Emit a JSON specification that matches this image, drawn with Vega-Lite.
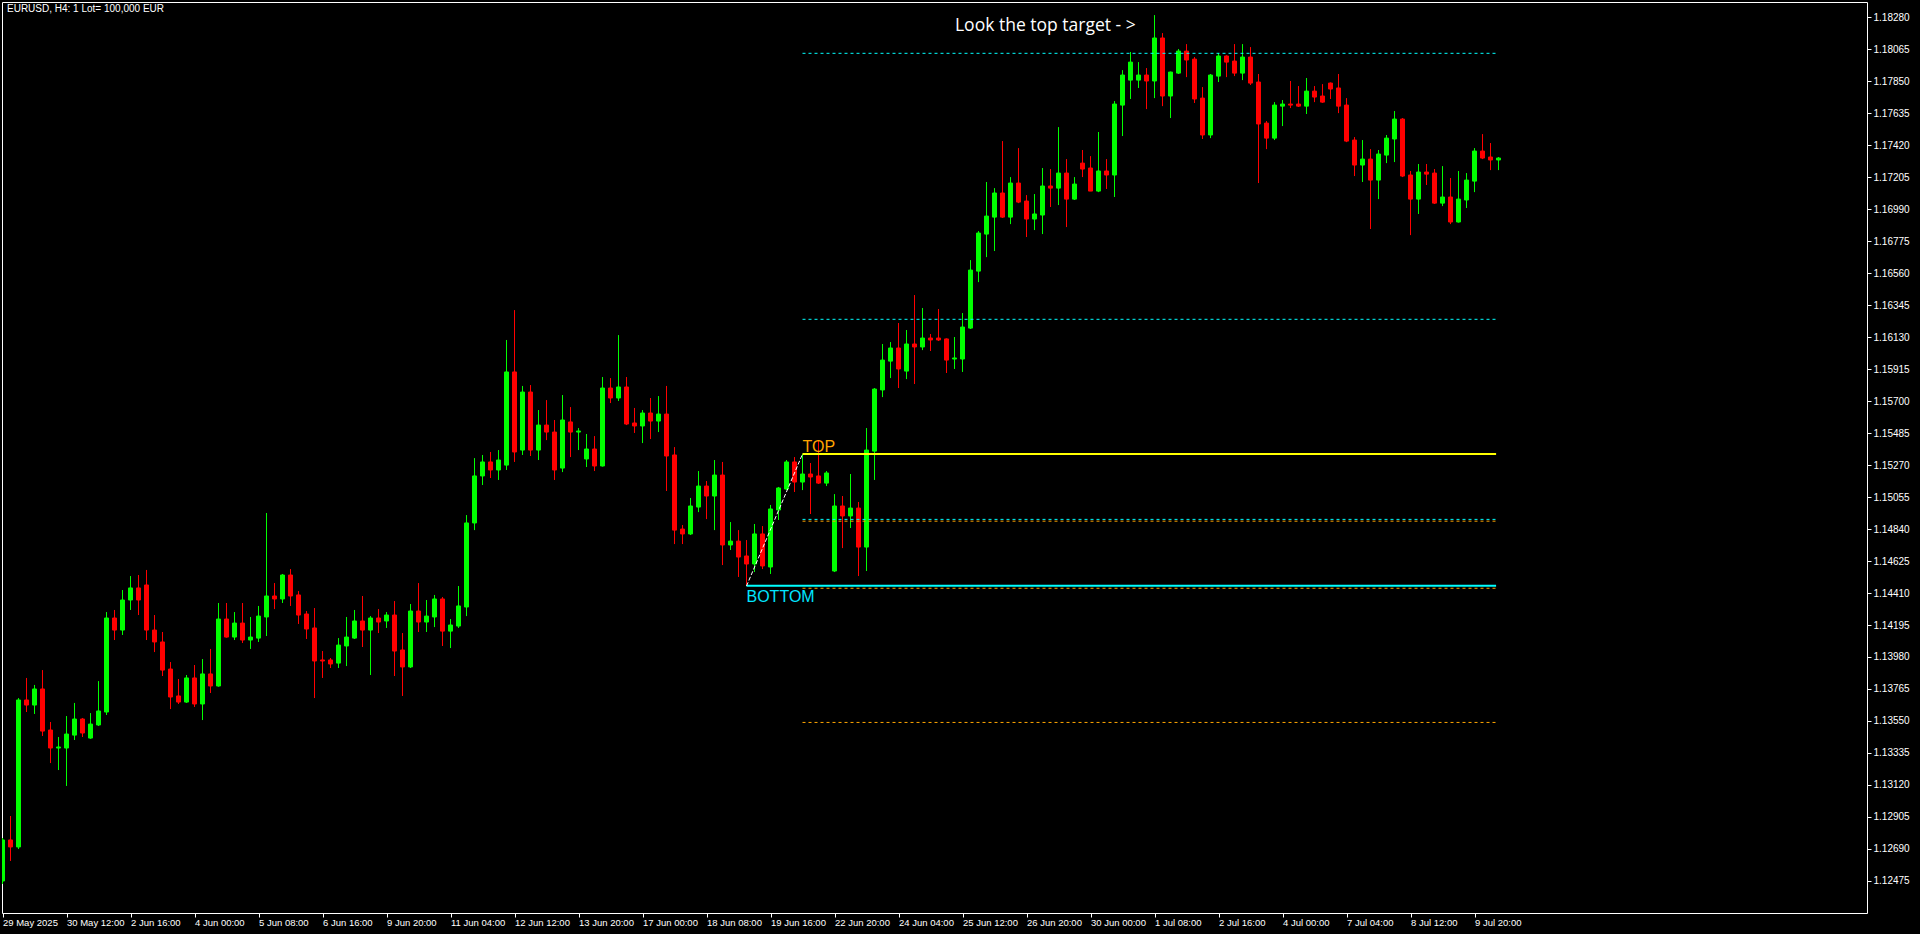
{
"$schema": "https://vega.github.io/schema/vega-lite/v6.json",
"width": 1865,
"height": 911,
"autosize": {"type": "none"},
"padding": {"left": 2, "top": 2, "right": 53, "bottom": 21},
"background": "#000000",
"config": {"view": {"stroke": "#ffffff", "strokeWidth": 1}},
"title": {"text": "EURUSD, H4:  1 Lot= 100,000 EUR", "anchor": "start", "frame": "group", "orient": "top", "offset": -12, "dx": 5, "color": "#ffffff", "font": "Liberation Sans", "fontSize": 10, "fontWeight": "normal"},
"resolve": {"axis": {"x": "independent", "y": "independent"}},
"datasets": {
"candles": [
{"i":0,"o":1.12474,"h":1.12763,"l":1.12454,"c":1.12750},
{"i":1,"o":1.12750,"h":1.12911,"l":1.12609,"c":1.12703},
{"i":2,"o":1.12703,"h":1.13704,"l":1.12689,"c":1.13691},
{"i":3,"o":1.13691,"h":1.13839,"l":1.13610,"c":1.13657},
{"i":4,"o":1.13657,"h":1.13792,"l":1.13597,"c":1.13765},
{"i":5,"o":1.13765,"h":1.13892,"l":1.13449,"c":1.13482},
{"i":6,"o":1.13489,"h":1.13543,"l":1.13267,"c":1.13368},
{"i":7,"o":1.13368,"h":1.13442,"l":1.13220,"c":1.13375},
{"i":8,"o":1.13368,"h":1.13583,"l":1.13113,"c":1.13462},
{"i":9,"o":1.13455,"h":1.13671,"l":1.13422,"c":1.13563},
{"i":10,"o":1.13563,"h":1.13570,"l":1.13442,"c":1.13469},
{"i":11,"o":1.13435,"h":1.13603,"l":1.13430,"c":1.13529},
{"i":12,"o":1.13523,"h":1.13818,"l":1.13516,"c":1.13617},
{"i":13,"o":1.13610,"h":1.14282,"l":1.13590,"c":1.14242},
{"i":14,"o":1.14242,"h":1.14296,"l":1.14094,"c":1.14161},
{"i":15,"o":1.14161,"h":1.14430,"l":1.14128,"c":1.14363},
{"i":16,"o":1.14363,"h":1.14524,"l":1.14296,"c":1.14444},
{"i":17,"o":1.14444,"h":1.14531,"l":1.14262,"c":1.14363},
{"i":18,"o":1.14464,"h":1.14565,"l":1.14094,"c":1.14161},
{"i":19,"o":1.14161,"h":1.14262,"l":1.14013,"c":1.14081},
{"i":20,"o":1.14081,"h":1.14148,"l":1.13852,"c":1.13892},
{"i":21,"o":1.13899,"h":1.13946,"l":1.13630,"c":1.13711},
{"i":22,"o":1.13718,"h":1.13832,"l":1.13664,"c":1.13677},
{"i":23,"o":1.13677,"h":1.13859,"l":1.13671,"c":1.13839},
{"i":24,"o":1.13839,"h":1.13926,"l":1.13644,"c":1.13664},
{"i":25,"o":1.13664,"h":1.13966,"l":1.13556,"c":1.13866},
{"i":26,"o":1.13866,"h":1.14034,"l":1.13738,"c":1.13785},
{"i":27,"o":1.13785,"h":1.14343,"l":1.13780,"c":1.14235},
{"i":28,"o":1.14235,"h":1.14343,"l":1.14110,"c":1.14114},
{"i":29,"o":1.14114,"h":1.14282,"l":1.14094,"c":1.14208},
{"i":30,"o":1.14208,"h":1.14343,"l":1.14074,"c":1.14094},
{"i":31,"o":1.14094,"h":1.14249,"l":1.14034,"c":1.14114},
{"i":32,"o":1.14107,"h":1.14323,"l":1.14081,"c":1.14255},
{"i":33,"o":1.14249,"h":1.14948,"l":1.14121,"c":1.14390},
{"i":34,"o":1.14390,"h":1.14477,"l":1.14302,"c":1.14370},
{"i":35,"o":1.14370,"h":1.14538,"l":1.14343,"c":1.14531},
{"i":36,"o":1.14531,"h":1.14571,"l":1.14323,"c":1.14390},
{"i":37,"o":1.14397,"h":1.14423,"l":1.14202,"c":1.14262},
{"i":38,"o":1.14269,"h":1.14289,"l":1.14101,"c":1.14168},
{"i":39,"o":1.14175,"h":1.14309,"l":1.13704,"c":1.13953},
{"i":40,"o":1.13960,"h":1.14020,"l":1.13839,"c":1.13953},
{"i":41,"o":1.13960,"h":1.13973,"l":1.13906,"c":1.13933},
{"i":42,"o":1.13939,"h":1.14107,"l":1.13906,"c":1.14060},
{"i":43,"o":1.14054,"h":1.14249,"l":1.13919,"c":1.14114},
{"i":44,"o":1.14107,"h":1.14296,"l":1.14101,"c":1.14222},
{"i":45,"o":1.14222,"h":1.14390,"l":1.14047,"c":1.14161},
{"i":46,"o":1.14161,"h":1.14255,"l":1.13859,"c":1.14242},
{"i":47,"o":1.14242,"h":1.14302,"l":1.14141,"c":1.14215},
{"i":48,"o":1.14222,"h":1.14282,"l":1.14175,"c":1.14262},
{"i":49,"o":1.14262,"h":1.14356,"l":1.13852,"c":1.14020},
{"i":50,"o":1.14027,"h":1.14141,"l":1.13718,"c":1.13913},
{"i":51,"o":1.13913,"h":1.14336,"l":1.13906,"c":1.14289},
{"i":52,"o":1.14289,"h":1.14477,"l":1.14148,"c":1.14215},
{"i":53,"o":1.14215,"h":1.14363,"l":1.14148,"c":1.14255},
{"i":54,"o":1.14249,"h":1.14397,"l":1.14181,"c":1.14370},
{"i":55,"o":1.14370,"h":1.14383,"l":1.14054,"c":1.14154},
{"i":56,"o":1.14154,"h":1.14235,"l":1.14040,"c":1.14195},
{"i":57,"o":1.14188,"h":1.14457,"l":1.14175,"c":1.14323},
{"i":58,"o":1.14316,"h":1.14934,"l":1.14255,"c":1.14881},
{"i":59,"o":1.14881,"h":1.15317,"l":1.14833,"c":1.15197},
{"i":60,"o":1.15197,"h":1.15338,"l":1.15136,"c":1.15291},
{"i":61,"o":1.15291,"h":1.15358,"l":1.15183,"c":1.15237},
{"i":62,"o":1.15237,"h":1.15371,"l":1.15170,"c":1.15304},
{"i":63,"o":1.15270,"h":1.16111,"l":1.15237,"c":1.15896},
{"i":64,"o":1.15896,"h":1.16312,"l":1.15291,"c":1.15358},
{"i":65,"o":1.15371,"h":1.15802,"l":1.15338,"c":1.15761},
{"i":66,"o":1.15761,"h":1.15808,"l":1.15331,"c":1.15371},
{"i":67,"o":1.15371,"h":1.15640,"l":1.15304,"c":1.15539},
{"i":68,"o":1.15539,"h":1.15707,"l":1.15438,"c":1.15492},
{"i":69,"o":1.15492,"h":1.15573,"l":1.15170,"c":1.15237},
{"i":70,"o":1.15250,"h":1.15741,"l":1.15223,"c":1.15573},
{"i":71,"o":1.15560,"h":1.15660,"l":1.15324,"c":1.15492},
{"i":72,"o":1.15492,"h":1.15519,"l":1.15371,"c":1.15499},
{"i":73,"o":1.15311,"h":1.15479,"l":1.15257,"c":1.15378},
{"i":74,"o":1.15378,"h":1.15465,"l":1.15230,"c":1.15264},
{"i":75,"o":1.15264,"h":1.15862,"l":1.15260,"c":1.15788},
{"i":76,"o":1.15788,"h":1.15855,"l":1.15687,"c":1.15721},
{"i":77,"o":1.15721,"h":1.16144,"l":1.15701,"c":1.15795},
{"i":78,"o":1.15795,"h":1.15862,"l":1.15539,"c":1.15546},
{"i":79,"o":1.15553,"h":1.15654,"l":1.15486,"c":1.15533},
{"i":80,"o":1.15533,"h":1.15640,"l":1.15418,"c":1.15620},
{"i":81,"o":1.15620,"h":1.15721,"l":1.15445,"c":1.15566},
{"i":82,"o":1.15566,"h":1.15734,"l":1.15492,"c":1.15613},
{"i":83,"o":1.15613,"h":1.15802,"l":1.15096,"c":1.15331},
{"i":84,"o":1.15338,"h":1.15391,"l":1.14739,"c":1.14833},
{"i":85,"o":1.14840,"h":1.14867,"l":1.14739,"c":1.14807},
{"i":86,"o":1.14807,"h":1.15049,"l":1.14800,"c":1.14995},
{"i":87,"o":1.14988,"h":1.15230,"l":1.14954,"c":1.15129},
{"i":88,"o":1.15129,"h":1.15163,"l":1.14907,"c":1.15062},
{"i":89,"o":1.15062,"h":1.15304,"l":1.14833,"c":1.15203},
{"i":90,"o":1.15203,"h":1.15291,"l":1.14598,"c":1.14733},
{"i":91,"o":1.14733,"h":1.14887,"l":1.14699,"c":1.14759},
{"i":92,"o":1.14759,"h":1.14833,"l":1.14518,"c":1.14652},
{"i":93,"o":1.14659,"h":1.14766,"l":1.14457,"c":1.14605},
{"i":94,"o":1.14605,"h":1.14874,"l":1.14551,"c":1.14807},
{"i":95,"o":1.14807,"h":1.14860,"l":1.14571,"c":1.14592},
{"i":96,"o":1.14585,"h":1.15002,"l":1.14538,"c":1.14975},
{"i":97,"o":1.14968,"h":1.15123,"l":1.14901,"c":1.15116},
{"i":98,"o":1.15109,"h":1.15304,"l":1.15102,"c":1.15291},
{"i":99,"o":1.15291,"h":1.15324,"l":1.15089,"c":1.15156},
{"i":100,"o":1.15156,"h":1.15344,"l":1.15102,"c":1.15210},
{"i":101,"o":1.15210,"h":1.15284,"l":1.14941,"c":1.15190},
{"i":102,"o":1.15197,"h":1.15432,"l":1.15143,"c":1.15149},
{"i":103,"o":1.15149,"h":1.15230,"l":1.15129,"c":1.15217},
{"i":104,"o":1.14558,"h":1.15075,"l":1.14551,"c":1.14995},
{"i":105,"o":1.14995,"h":1.15062,"l":1.14712,"c":1.14928},
{"i":106,"o":1.14928,"h":1.15210,"l":1.14847,"c":1.14981},
{"i":107,"o":1.14981,"h":1.15022,"l":1.14524,"c":1.14719},
{"i":108,"o":1.14719,"h":1.15519,"l":1.14558,"c":1.15371},
{"i":109,"o":1.15364,"h":1.15788,"l":1.15170,"c":1.15781},
{"i":110,"o":1.15775,"h":1.16084,"l":1.15727,"c":1.15976},
{"i":111,"o":1.15969,"h":1.16097,"l":1.15855,"c":1.16057},
{"i":112,"o":1.16057,"h":1.16225,"l":1.15788,"c":1.15916},
{"i":113,"o":1.15902,"h":1.16178,"l":1.15848,"c":1.16084},
{"i":114,"o":1.16084,"h":1.16413,"l":1.15815,"c":1.16064},
{"i":115,"o":1.16064,"h":1.16326,"l":1.16043,"c":1.16124},
{"i":116,"o":1.16124,"h":1.16151,"l":1.16037,"c":1.16111},
{"i":117,"o":1.16124,"h":1.16319,"l":1.16104,"c":1.16111},
{"i":118,"o":1.16118,"h":1.16122,"l":1.15889,"c":1.15976},
{"i":119,"o":1.15983,"h":1.16131,"l":1.15916,"c":1.15990},
{"i":120,"o":1.15983,"h":1.16292,"l":1.15896,"c":1.16198},
{"i":121,"o":1.16191,"h":1.16648,"l":1.16185,"c":1.16581},
{"i":122,"o":1.16574,"h":1.16843,"l":1.16500,"c":1.16830},
{"i":123,"o":1.16823,"h":1.17173,"l":1.16668,"c":1.16944},
{"i":124,"o":1.16937,"h":1.17132,"l":1.16709,"c":1.17099},
{"i":125,"o":1.17099,"h":1.17448,"l":1.16931,"c":1.16937},
{"i":126,"o":1.16937,"h":1.17206,"l":1.16890,"c":1.17166},
{"i":127,"o":1.17166,"h":1.17401,"l":1.17031,"c":1.17038},
{"i":128,"o":1.17045,"h":1.17085,"l":1.16803,"c":1.16924},
{"i":129,"o":1.16924,"h":1.17092,"l":1.16850,"c":1.16958},
{"i":130,"o":1.16951,"h":1.17267,"l":1.16823,"c":1.17146},
{"i":131,"o":1.17146,"h":1.17260,"l":1.17005,"c":1.17132},
{"i":132,"o":1.17132,"h":1.17542,"l":1.17018,"c":1.17233},
{"i":133,"o":1.17233,"h":1.17327,"l":1.16870,"c":1.17058},
{"i":134,"o":1.17058,"h":1.17206,"l":1.17052,"c":1.17159},
{"i":135,"o":1.17300,"h":1.17388,"l":1.17206,"c":1.17260},
{"i":136,"o":1.17267,"h":1.17347,"l":1.17112,"c":1.17112},
{"i":137,"o":1.17112,"h":1.17509,"l":1.17105,"c":1.17247},
{"i":138,"o":1.17247,"h":1.17327,"l":1.17126,"c":1.17220},
{"i":139,"o":1.17220,"h":1.17717,"l":1.17072,"c":1.17697},
{"i":140,"o":1.17690,"h":1.17925,"l":1.17482,"c":1.17892},
{"i":141,"o":1.17858,"h":1.18047,"l":1.17731,"c":1.17979},
{"i":142,"o":1.17858,"h":1.17979,"l":1.17805,"c":1.17892},
{"i":143,"o":1.17892,"h":1.17939,"l":1.17663,"c":1.17852},
{"i":144,"o":1.17852,"h":1.18295,"l":1.17737,"c":1.18141},
{"i":145,"o":1.18141,"h":1.18174,"l":1.17683,"c":1.17751},
{"i":146,"o":1.17751,"h":1.17915,"l":1.17603,"c":1.17912},
{"i":147,"o":1.17905,"h":1.18067,"l":1.17899,"c":1.18053},
{"i":148,"o":1.18053,"h":1.18100,"l":1.17878,"c":1.17993},
{"i":149,"o":1.17999,"h":1.18013,"l":1.17704,"c":1.17731},
{"i":150,"o":1.17737,"h":1.17811,"l":1.17462,"c":1.17489},
{"i":151,"o":1.17489,"h":1.17899,"l":1.17468,"c":1.17892},
{"i":152,"o":1.17885,"h":1.18040,"l":1.17845,"c":1.18020},
{"i":153,"o":1.18020,"h":1.18025,"l":1.17878,"c":1.17979},
{"i":154,"o":1.17986,"h":1.18100,"l":1.17885,"c":1.17905},
{"i":155,"o":1.17905,"h":1.18100,"l":1.17858,"c":1.18013},
{"i":156,"o":1.18013,"h":1.18080,"l":1.17825,"c":1.17838},
{"i":157,"o":1.17845,"h":1.17899,"l":1.17166,"c":1.17563},
{"i":158,"o":1.17569,"h":1.17583,"l":1.17394,"c":1.17468},
{"i":159,"o":1.17468,"h":1.17710,"l":1.17455,"c":1.17690},
{"i":160,"o":1.17683,"h":1.17724,"l":1.17549,"c":1.17697},
{"i":161,"o":1.17697,"h":1.17852,"l":1.17670,"c":1.17690},
{"i":162,"o":1.17697,"h":1.17818,"l":1.17677,"c":1.17683},
{"i":163,"o":1.17683,"h":1.17872,"l":1.17630,"c":1.17784},
{"i":164,"o":1.17784,"h":1.17818,"l":1.17710,"c":1.17744},
{"i":165,"o":1.17751,"h":1.17831,"l":1.17705,"c":1.17710},
{"i":166,"o":1.17838,"h":1.17842,"l":1.17731,"c":1.17798},
{"i":167,"o":1.17805,"h":1.17899,"l":1.17636,"c":1.17683},
{"i":168,"o":1.17690,"h":1.17737,"l":1.17441,"c":1.17448},
{"i":169,"o":1.17455,"h":1.17475,"l":1.17213,"c":1.17287},
{"i":170,"o":1.17287,"h":1.17455,"l":1.17173,"c":1.17327},
{"i":171,"o":1.17327,"h":1.17394,"l":1.16857,"c":1.17186},
{"i":172,"o":1.17186,"h":1.17388,"l":1.17058,"c":1.17361},
{"i":173,"o":1.17354,"h":1.17489,"l":1.17300,"c":1.17468},
{"i":174,"o":1.17462,"h":1.17650,"l":1.17307,"c":1.17596},
{"i":175,"o":1.17596,"h":1.17603,"l":1.17206,"c":1.17213},
{"i":176,"o":1.17220,"h":1.17247,"l":1.16816,"c":1.17058},
{"i":177,"o":1.17058,"h":1.17294,"l":1.16958,"c":1.17240},
{"i":178,"o":1.17240,"h":1.17294,"l":1.17153,"c":1.17226},
{"i":179,"o":1.17233,"h":1.17260,"l":1.17025,"c":1.17031},
{"i":180,"o":1.17031,"h":1.17280,"l":1.17011,"c":1.17072},
{"i":181,"o":1.17072,"h":1.17200,"l":1.16890,"c":1.16904},
{"i":182,"o":1.16904,"h":1.17247,"l":1.16900,"c":1.17058},
{"i":183,"o":1.17052,"h":1.17233,"l":1.16998,"c":1.17186},
{"i":184,"o":1.17179,"h":1.17401,"l":1.17105,"c":1.17381},
{"i":185,"o":1.17381,"h":1.17495,"l":1.17327,"c":1.17334},
{"i":186,"o":1.17341,"h":1.17435,"l":1.17253,"c":1.17321},
{"i":187,"o":1.17321,"h":1.17341,"l":1.17253,"c":1.17334}
],
"cyanDashed": [
{"x1":100,"x2":186.7,"p":1.18038},
{"x1":100,"x2":186.7,"p":1.16250},
{"x1":100,"x2":186.7,"p":1.14905}
],
"orangeDashed": [
{"x1":100,"x2":186.7,"p":1.14893},
{"x1":100,"x2":186.7,"p":1.14442},
{"x1":100,"x2":186.7,"p":1.13540}
],
"topLine": [{"x1":100,"x2":186.7,"p":1.15344}],
"bottomLine": [{"x1":93,"x2":186.7,"p":1.14459}],
"zigzag": [{"i":93,"p":1.14457},{"i":100,"p":1.15344}]
},
"layer": [
{
"data": {"name": "candles"},
"mark": {"type": "rule", "strokeWidth": 1, "clip": true},
"encoding": {
"x": {"field": "i", "type": "quantitative", "title": null, "scale": {"domain": [-0.0625, 233.0625], "nice": false, "zero": false, "padding": 0},
"axis": {"orient": "bottom", "values": [0,8,16,24,32,40,48,56,64,72,80,88,96,104,112,120,128,136,144,152,160,168,176,184],
"labelExpr": "['29 May 2025','30 May 12:00','2 Jun 16:00','4 Jun 00:00','5 Jun 08:00','6 Jun 16:00','9 Jun 20:00','11 Jun 04:00','12 Jun 12:00','13 Jun 20:00','17 Jun 00:00','18 Jun 08:00','19 Jun 16:00','22 Jun 20:00','24 Jun 04:00','25 Jun 12:00','26 Jun 20:00','30 Jun 00:00','1 Jul 08:00','2 Jul 16:00','4 Jul 00:00','7 Jul 04:00','8 Jul 12:00','9 Jul 20:00'][round(datum.value/8)]",
"domain": false, "grid": false, "ticks": true, "tickSize": 4, "tickColor": "#ffffff", "labelColor": "#ffffff", "labelFont": "Liberation Sans", "labelFontSize": 9.5, "labelAlign": "left", "labelBaseline": "top", "labelPadding": 0, "labelOffset": 0, "labelOverlap": false, "labelFlush": false, "labelBound": false}},
"y": {"field": "l", "type": "quantitative", "title": null, "scale": {"domain": [1.12259, 1.18383], "nice": false, "zero": false, "padding": 0},
"axis": {"orient": "right", "values": [1.12475,1.12690,1.12905,1.13120,1.13335,1.13550,1.13765,1.13980,1.14195,1.14410,1.14625,1.14840,1.15055,1.15270,1.15485,1.15700,1.15915,1.16130,1.16345,1.16560,1.16775,1.16990,1.17205,1.17420,1.17635,1.17850,1.18065,1.18280],
"format": ".5f", "domain": false, "grid": false, "ticks": true, "tickSize": 4, "tickColor": "#ffffff", "labelColor": "#ffffff", "labelFont": "Liberation Sans", "labelFontSize": 10, "labelPadding": 2, "labelOverlap": false, "labelFlush": false, "labelBaseline": "middle", "labelAlign": "left"}},
"y2": {"field": "h"},
"color": {"condition": {"test": "datum.c >= datum.o", "value": "#00ff00"}, "value": "#ff0000"}
}
},
{
"data": {"name": "candles"},
"mark": {"type": "bar", "size": 4, "strokeWidth": 1, "clip": true, "opacity": 1},
"encoding": {
"x": {"field": "i", "type": "quantitative", "title": null, "scale": {"domain": [-0.0625, 233.0625], "nice": false, "zero": false, "padding": 0}, "axis": null},
"y": {"field": "o", "type": "quantitative", "title": null, "scale": {"domain": [1.12259, 1.18383], "nice": false, "zero": false, "padding": 0}, "axis": null},
"y2": {"field": "c"},
"fill": {"condition": {"test": "datum.c >= datum.o", "value": "#00ff00"}, "value": "#ff0000"},
"stroke": {"condition": {"test": "datum.c >= datum.o", "value": "#00ff00"}, "value": "#ff0000"}
}
},
{
"data": {"name": "cyanDashed"},
"mark": {"type": "rule", "color": "#00ffff", "strokeWidth": 1, "strokeDash": [3, 3]},
"encoding": {
"x": {"field": "x1", "type": "quantitative", "title": null, "scale": {"domain": [-0.0625, 233.0625], "nice": false, "zero": false, "padding": 0}, "axis": null},
"x2": {"field": "x2"},
"y": {"field": "p", "type": "quantitative", "title": null, "scale": {"domain": [1.12259, 1.18383], "nice": false, "zero": false, "padding": 0}, "axis": null}
}
},
{
"data": {"name": "orangeDashed"},
"mark": {"type": "rule", "color": "#ffa500", "strokeWidth": 1, "strokeDash": [3, 3]},
"encoding": {
"x": {"field": "x1", "type": "quantitative", "title": null, "scale": {"domain": [-0.0625, 233.0625], "nice": false, "zero": false, "padding": 0}, "axis": null},
"x2": {"field": "x2"},
"y": {"field": "p", "type": "quantitative", "title": null, "scale": {"domain": [1.12259, 1.18383], "nice": false, "zero": false, "padding": 0}, "axis": null}
}
},
{
"data": {"name": "topLine"},
"mark": {"type": "rule", "color": "#ffff00", "strokeWidth": 2},
"encoding": {
"x": {"field": "x1", "type": "quantitative", "title": null, "scale": {"domain": [-0.0625, 233.0625], "nice": false, "zero": false, "padding": 0}, "axis": null},
"x2": {"field": "x2"},
"y": {"field": "p", "type": "quantitative", "title": null, "scale": {"domain": [1.12259, 1.18383], "nice": false, "zero": false, "padding": 0}, "axis": null}
}
},
{
"data": {"name": "bottomLine"},
"mark": {"type": "rule", "color": "#00ffff", "strokeWidth": 2},
"encoding": {
"x": {"field": "x1", "type": "quantitative", "title": null, "scale": {"domain": [-0.0625, 233.0625], "nice": false, "zero": false, "padding": 0}, "axis": null},
"x2": {"field": "x2"},
"y": {"field": "p", "type": "quantitative", "title": null, "scale": {"domain": [1.12259, 1.18383], "nice": false, "zero": false, "padding": 0}, "axis": null}
}
},
{
"data": {"name": "zigzag"},
"mark": {"type": "line", "color": "#ffffff", "strokeWidth": 1, "strokeDash": [4, 2]},
"encoding": {
"x": {"field": "i", "type": "quantitative", "title": null, "scale": {"domain": [-0.0625, 233.0625], "nice": false, "zero": false, "padding": 0}, "axis": null},
"y": {"field": "p", "type": "quantitative", "title": null, "scale": {"domain": [1.12259, 1.18383], "nice": false, "zero": false, "padding": 0}, "axis": null}
}
},
{
"data": {"values": [{"i": 100, "p": 1.15358, "t": "TOP"}]},
"mark": {"type": "text", "align": "left", "baseline": "alphabetic", "color": "#ffa500", "font": "Liberation Sans", "fontSize": 16},
"encoding": {
"x": {"field": "i", "type": "quantitative", "title": null, "scale": {"domain": [-0.0625, 233.0625], "nice": false, "zero": false, "padding": 0}, "axis": null},
"y": {"field": "p", "type": "quantitative", "title": null, "scale": {"domain": [1.12259, 1.18383], "nice": false, "zero": false, "padding": 0}, "axis": null},
"text": {"field": "t"}
}
},
{
"data": {"values": [{"i": 93, "p": 1.14349, "t": "BOTTOM"}]},
"mark": {"type": "text", "align": "left", "baseline": "alphabetic", "color": "#00e5ff", "font": "Liberation Sans", "fontSize": 16},
"encoding": {
"x": {"field": "i", "type": "quantitative", "title": null, "scale": {"domain": [-0.0625, 233.0625], "nice": false, "zero": false, "padding": 0}, "axis": null},
"y": {"field": "p", "type": "quantitative", "title": null, "scale": {"domain": [1.12259, 1.18383], "nice": false, "zero": false, "padding": 0}, "axis": null},
"text": {"field": "t"}
}
},
{
"data": {"values": [{"i": 119.06, "p": 1.18223, "t": "Look the top target - >"}]},
"mark": {"type": "text", "align": "left", "baseline": "middle", "color": "#ffffff", "font": "Open Sans", "fontSize": 17.5},
"encoding": {
"x": {"field": "i", "type": "quantitative", "title": null, "scale": {"domain": [-0.0625, 233.0625], "nice": false, "zero": false, "padding": 0}, "axis": null},
"y": {"field": "p", "type": "quantitative", "title": null, "scale": {"domain": [1.12259, 1.18383], "nice": false, "zero": false, "padding": 0}, "axis": null},
"text": {"field": "t"}
}
}
]
}
